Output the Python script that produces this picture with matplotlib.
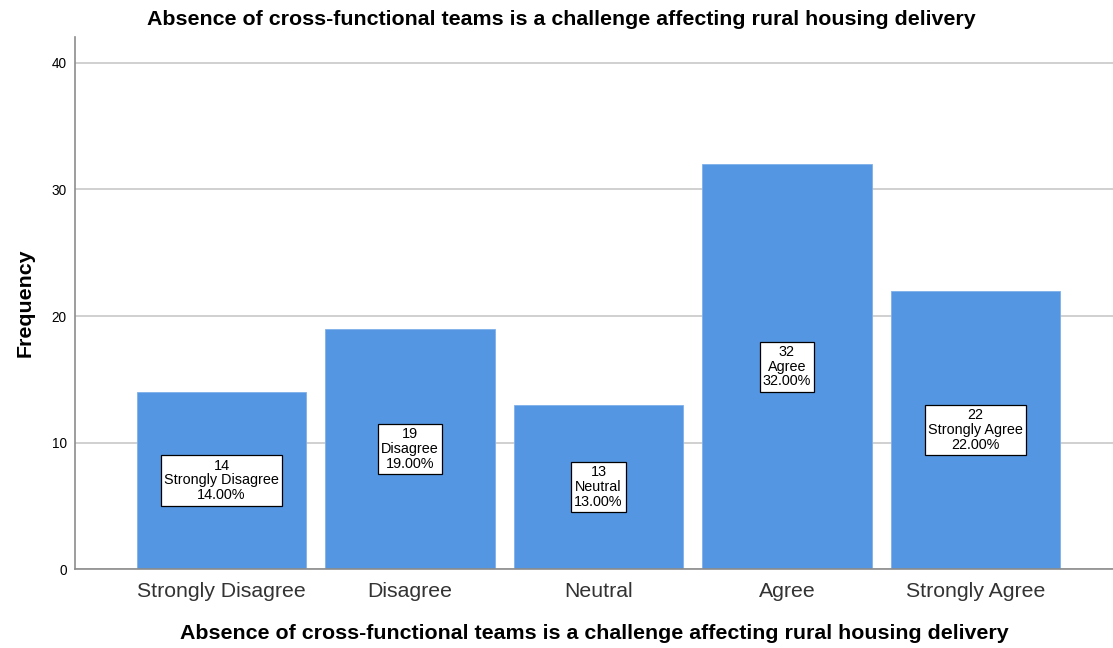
import matplotlib
matplotlib.use("Agg")
import matplotlib.pyplot as plt

# 데이터
categories = ["Strongly Disagree", "Disagree", "Neutral", "Agree", "Strongly Agree"]
counts = [14, 19, 13, 32, 22]
percents = [14.00, 19.00, 13.00, 32.00, 22.00]
yticks = [0, 10, 20, 30, 40]

title = "Absence of cross-functional teams is a challenge affecting rural housing delivery"

plt.rcParams["font.family"] = ["Liberation Sans", "DejaVu Sans"]

fig = plt.figure(figsize=(11.13, 6.48), dpi=100)
ax = fig.add_axes([0.0674, 0.1219, 0.9327, 0.8211])

x = list(range(len(categories)))
ax.bar(x, counts, width=0.897, color="#5596E3", edgecolor="#7FB0EA", linewidth=0.6, zorder=2)

for xi, c, cat, p in zip(x, counts, categories, percents):
    ax.text(xi, c / 2, f"{c}\n{cat}\n{p:.2f}%", ha="center", va="center",
            fontsize=10.4, linespacing=1.08, zorder=3,
            bbox=dict(boxstyle="square,pad=0.22", fc="white", ec="black", lw=0.9))

ax.set_xlim(-0.777, 4.73)
ax.set_ylim(0, 42.06)
ax.set_yticks(yticks)
ax.set_xticks(x)
ax.set_xticklabels(categories, fontsize=15.3, color="#333333")
ax.tick_params(axis="y", labelsize=9.8, length=0, pad=6)
ax.tick_params(axis="x", length=0, pad=9)
ax.grid(axis="y", color="#C8C8C8", linewidth=1.2, zorder=0)
ax.set_axisbelow(True)

for s in ["top", "right"]:
    ax.spines[s].set_visible(False)
for s in ["left", "bottom"]:
    ax.spines[s].set_color("#8C8C8C")
    ax.spines[s].set_linewidth(1.2)

ax.set_ylabel("Frequency", fontsize=15.4, fontweight="bold", labelpad=12)
ax.set_xlabel(title, fontsize=15.4, fontweight="bold", labelpad=17)
fig.text(0.504, 0.970, title, ha="center", va="center", fontsize=15.4, fontweight="bold")

fig.savefig("out.png", dpi=100)
